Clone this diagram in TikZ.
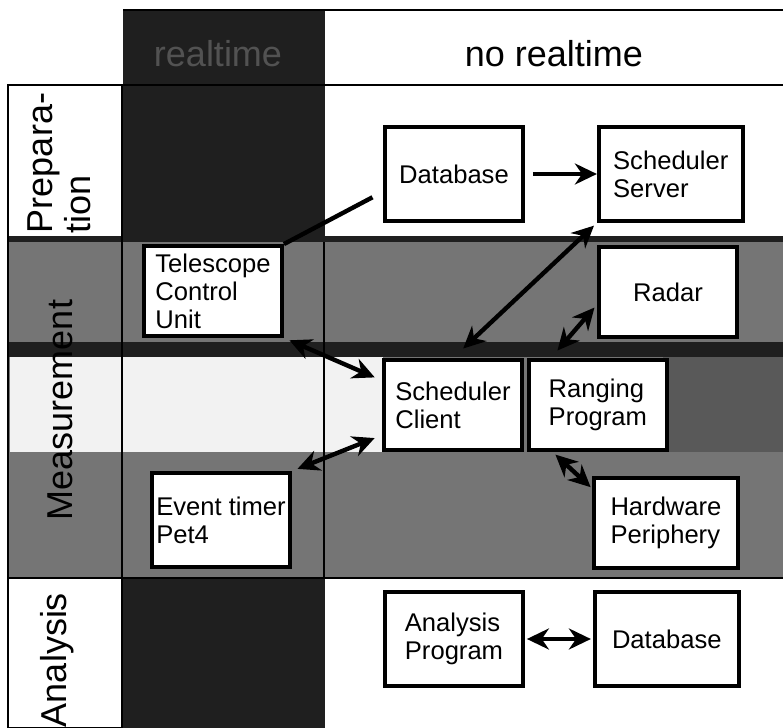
\documentclass[tikz,border=0pt]{standalone}
\usepackage{fontspec}
\setmainfont{Liberation Sans}
\definecolor{rtdark}{gray}{0.12}
\definecolor{measgray}{gray}{0.46}
\usetikzlibrary{arrows.meta, positioning, calc}

\begin{document}
\begin{tikzpicture}[
    x=0.5pt, y=-0.5pt,
    box/.style={draw, line width=1.9pt, fill=white, align=left,
                minimum width=69pt, minimum height=45pt, inner sep=2pt,
                font=\fontsize{12.8}{14}\selectfont},
    wide/.style={minimum width=72pt},
    tall/.style={minimum height=47pt},
    head/.style={font=\fontsize{18}{20}\selectfont},
    rowlab/.style={rotate=90, align=left, font=\fontsize{18}{19}\selectfont},
    arr/.style={-{Stealth[length=11pt, width=10.5pt]}, line width=2.2pt},
    biarr/.style={{Stealth[length=11pt, width=10.5pt]}-{Stealth[length=11pt, width=10.5pt]},
                  line width=2.2pt},
    rule/.style={line width=1.2pt}
  ]
  \fill[white] (0,0) rectangle (783,728);
  \useasboundingbox (0,0) rectangle (783,728);

  \fill[rtdark] (123,10) rectangle (325,728);
  \fill[measgray] (8,237) rectangle (783,578);
  \fill[black!5] (10,357) rectangle (383,452);
  \fill[black!65] (663,357) rectangle (783,452);
  \fill[rtdark] (8,342) rectangle (783,357);
  \fill[rtdark] (8,236) rectangle (783,242);
  \draw[rule] (123,10) -- (783,10);
  \draw[rule] (8,85) -- (783,85);
  \draw[rule] (8,85) rectangle (122,728);
  \draw[rule] (8,578) -- (783,578);
  \draw[rule] (324,242) -- (324,578);

  \node[head, text=black!68] (rt)  at (218,54) {realtime};
  \node[head]                (nrt) at (554,54) {no realtime};
  \node[rowlab] (prep)     at (59,163) {Prepara-\\tion};
  \node[rowlab] (meas)     at (60,410) {Measurement};
  \node[rowlab] (analysis) at (57,660) {Analysis};

  \node[box, tall] (db1) at (454,174) {Database};
  \node[box, wide, tall, right=36pt of db1] (srv) {Scheduler\\Server};
  \node[box] (tcu)   at (213,291) {Telescope\\Control\\Unit};
  \node[box] (radar) at (668,292) {Radar};
  \node[box] (client) at (453,405) {Scheduler\\Client};
  \node[box, right=1.5pt of client] (ranging) {Ranging\\Program};
  \node[box, tall] (event) at (221,520) {Event timer\\Pet4};
  \node[box, wide] (hw) at (666,523) {Hardware\\Periphery};
  \node[box, tall] (ana) at (454,639) {Analysis\\Program};
  \node[box, wide, tall, right=34pt of ana] (db2) {Database};

  \draw[arr, shorten <=4pt] (db1) -- (srv);
  \draw[line width=2.2pt, shorten >=6pt] (tcu.north east) -- (db1.194);
  \draw[biarr, shorten <=7pt, shorten >=2pt] (client.north) -- (srv.south west);
  \draw[biarr, shorten <=5pt, shorten >=2pt] (ranging.135) -- (radar.190);
  \draw[biarr, shorten <=3pt, shorten >=4pt] (tcu.south east) -- (client.161);
  \draw[biarr, shorten <=3pt, shorten >=4pt] (event.north east) -- (client.203);
  \draw[biarr, shorten <=2pt, shorten >=1pt] (ranging.226) -- (hw.155);
  \draw[biarr, shorten <=1pt, shorten >=1pt] (ana) -- (db2);
\end{tikzpicture}
\end{document}
